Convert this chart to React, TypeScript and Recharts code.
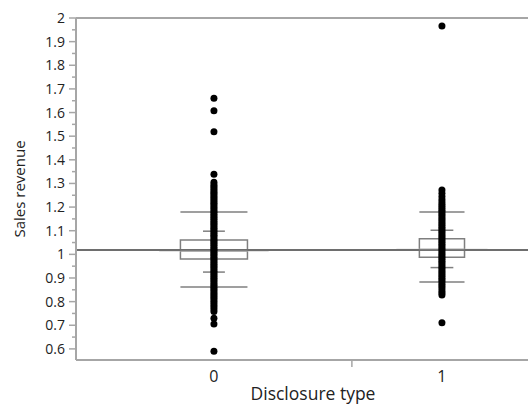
import React from "react";
import {
  ComposedChart,
  Scatter,
  XAxis,
  YAxis,
  ReferenceLine,
  ReferenceArea,
} from "recharts";

// categories (x positions are group centres; widths follow group size)
const groups = ["0", "1"];
const groupCenters = [0, 1];
const groupBoundary = 0.605;
const xDomain = [-0.605, 1.395];
const yDomain = [0.553, 2];

const yMajorTicks = [0.6, 0.7, 0.8, 0.9, 1, 1.1, 1.2, 1.3, 1.4, 1.5, 1.6, 1.7, 1.8, 1.9, 2];
const yMinorTicks = [0.65, 0.75, 0.85, 0.95, 1.05, 1.15, 1.25, 1.35, 1.45, 1.55, 1.65, 1.75, 1.85, 1.95];

// observations per group
const points0 = [
  1.66, 1.608, 1.519, 1.339,
  1.305, 1.295, 1.287, 1.279, 1.27, 1.262, 1.255, 1.247, 1.24, 1.232, 1.224,
  1.216, 1.209, 1.2, 1.193, 1.185, 1.178, 1.17, 1.162, 1.155, 1.148, 1.14,
  1.133, 1.126, 1.118, 1.11, 1.103, 1.096, 1.088, 1.081, 1.074, 1.066, 1.059,
  1.052, 1.045, 1.038, 1.03, 1.023, 1.016, 1.009, 1.002, 0.995, 0.988, 0.98,
  0.973, 0.966, 0.958, 0.951, 0.944, 0.936, 0.929, 0.921, 0.914, 0.906, 0.899,
  0.891, 0.884, 0.876, 0.869, 0.861, 0.853, 0.846, 0.838, 0.83, 0.822, 0.814,
  0.805, 0.796, 0.787, 0.778, 0.769, 0.758,
  0.73, 0.705, 0.59,
];
const points1 = [
  1.966,
  1.272, 1.258, 1.245, 1.232, 1.222, 1.212, 1.203, 1.195, 1.187, 1.179, 1.171,
  1.163, 1.155, 1.147, 1.139, 1.131, 1.123, 1.115, 1.107, 1.099, 1.091, 1.083,
  1.075, 1.067, 1.059, 1.051, 1.043, 1.035, 1.027, 1.019, 1.011, 1.003, 0.995,
  0.987, 0.979, 0.971, 0.963, 0.955, 0.947, 0.939, 0.931, 0.923, 0.915, 0.907,
  0.899, 0.891, 0.883, 0.874, 0.865, 0.855, 0.845, 0.836, 0.828,
  0.711,
];

// box plot and mean / std dev summary per group
const boxQ1 = [0.98, 0.988];
const boxMedian = [1.015, 1.021];
const boxQ3 = [1.061, 1.066];
const sdUpper = [1.179, 1.179];
const sdLower = [0.862, 0.883];
const errUpper = [1.098, 1.102];
const errLower = [0.925, 0.944];
const groupMeans = [1.015, 1.021];
const grandMean = 1.018;

const boxHalf = [0.147, 0.099];
const errHalf = [0.048, 0.05];
const meanHalf = [0.24, 0.2];

const FONT = "'Open Sans', 'Noto Sans', sans-serif";
const AXIS = "#a6a6a6";
const LINE = "#7f7f7f";
const TEXT = "#222";

const isMajor = (v: number) => yMajorTicks.some((m) => Math.abs(m - v) < 1e-6);

const YTick = (props: any) => {
  const { x, y, payload } = props;
  const v = payload.value;
  const axisX = x + 11;
  const major = isMajor(v);
  return (
    <g>
      <line x1={axisX - (major ? 7 : 4)} x2={axisX} y1={y} y2={y} stroke={AXIS} strokeWidth={1.5} />
      {major && (
        <text x={x} y={y} dy="0.36em" textAnchor="end" fontFamily={FONT} fontSize={14} fill={TEXT}>
          {String(Math.round(v * 10) / 10)}
        </text>
      )}
    </g>
  );
};

const XTick = (props: any) => {
  const { x, y, payload } = props;
  const v = payload.value;
  const idx = groupCenters.indexOf(v);
  if (idx < 0) {
    return <line x1={x} x2={x} y1={y - 10} y2={y - 3} stroke={AXIS} strokeWidth={1.5} />;
  }
  return (
    <text x={x} y={y} dy="0.72em" textAnchor="middle" fontFamily={FONT} fontSize={16} fill={TEXT}>
      {groups[idx]}
    </text>
  );
};

const Dot = (props: any) => <circle cx={props.cx} cy={props.cy} r={3.5} fill="#000" />;

export default function App() {
  const data0 = points0.map((v) => ({ x: groupCenters[0], y: v }));
  const data1 = points1.map((v) => ({ x: groupCenters[1], y: v }));

  const seg = (i: number, half: number[], v: number) => [
    { x: groupCenters[i] - half[i], y: v },
    { x: groupCenters[i] + half[i], y: v },
  ];

  return (
    <div
      style={{
        position: "absolute",
        left: 0,
        top: 0,
        width: 528,
        height: 420,
        overflow: "hidden",
        background: "#fff",
      }}
    >
      <ComposedChart width={540} height={420} margin={{ top: 18, right: 8, bottom: 30, left: 0 }}>
        <XAxis
          type="number"
          dataKey="x"
          domain={xDomain}
          allowDataOverflow
          ticks={[groupCenters[0], groupBoundary, groupCenters[1]]}
          interval={0}
          tickSize={0}
          tickMargin={10}
          tick={<XTick />}
          axisLine={{ stroke: AXIS, strokeWidth: 2 }}
          height={30}
          label={(p: any) => {
            const vb = p.viewBox;
            return (
              <text
                x={vb.x + vb.width / 2 + 9}
                y={vb.y + 40}
                textAnchor="middle"
                fontFamily={FONT}
                fontSize={17.5}
                fill={TEXT}
              >
                Disclosure type
              </text>
            );
          }}
        />
        <YAxis
          type="number"
          dataKey="y"
          domain={yDomain}
          allowDataOverflow
          ticks={[...yMajorTicks, ...yMinorTicks].sort((a, b) => a - b)}
          interval={0}
          tickSize={7}
          tickMargin={4}
          tickLine={false}
          tick={<YTick />}
          axisLine={{ stroke: AXIS, strokeWidth: 2 }}
          width={76}
          label={(p: any) => {
            const vb = p.viewBox;
            const cy = vb.y + vb.height / 2;
            return (
              <text
                x={25}
                y={cy}
                transform={`rotate(-90 25 ${cy})`}
                textAnchor="middle"
                fontFamily={FONT}
                fontSize={15}
                fill={TEXT}
              >
                Sales revenue
              </text>
            );
          }}
        />
        <ReferenceLine y={yDomain[1]} stroke={AXIS} strokeWidth={2} />

        <Scatter data={data0} shape={<Dot />} isAnimationActive={false} />
        <Scatter data={data1} shape={<Dot />} isAnimationActive={false} />

        {groupCenters.map((_, i) => (
          <ReferenceLine key={`m${i}`} segment={seg(i, meanHalf, groupMeans[i])} stroke="#c8c8c8" strokeWidth={1.5} />
        ))}
        <ReferenceLine y={grandMean} stroke="#6e6e6e" strokeWidth={2} />
        {groupCenters.map((c, i) => (
          <ReferenceArea
            key={`b${i}`}
            x1={c - boxHalf[i]}
            x2={c + boxHalf[i]}
            y1={boxQ1[i]}
            y2={boxQ3[i]}
            fill="none"
            fillOpacity={0}
            stroke={LINE}
            strokeWidth={1.5}
          />
        ))}
        {groupCenters.map((_, i) => (
          <ReferenceLine key={`md${i}`} segment={seg(i, boxHalf, boxMedian[i])} stroke={LINE} strokeWidth={1.5} />
        ))}
        {groupCenters.map((_, i) => (
          <ReferenceLine key={`su${i}`} segment={seg(i, boxHalf, sdUpper[i])} stroke={LINE} strokeWidth={1.5} />
        ))}
        {groupCenters.map((_, i) => (
          <ReferenceLine key={`sl${i}`} segment={seg(i, boxHalf, sdLower[i])} stroke={LINE} strokeWidth={1.5} />
        ))}
        {groupCenters.map((_, i) => (
          <ReferenceLine key={`eu${i}`} segment={seg(i, errHalf, errUpper[i])} stroke={LINE} strokeWidth={1.5} />
        ))}
        {groupCenters.map((_, i) => (
          <ReferenceLine key={`el${i}`} segment={seg(i, errHalf, errLower[i])} stroke={LINE} strokeWidth={1.5} />
        ))}
      </ComposedChart>
    </div>
  );
}
